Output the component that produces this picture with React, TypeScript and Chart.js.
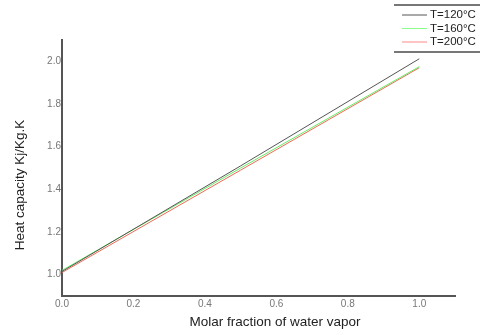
import React, { useEffect, useRef } from "react";
import { Chart, registerables } from "chart.js";

Chart.register(...registerables);

const xValues = [0, 0.5, 1.0];
const seriesLabels = ["T=120°C", "T=160°C", "T=200°C"];
const t120 = [1.015, 1.51, 2.012];
const t160 = [1.02, 1.5, 1.975];
const t200 = [1.01, 1.49, 1.97];
const seriesColors = ["#555555", "#66ee66", "#ee6a55"];
const legendColors = ["#555555", "#88ff88", "#ff8888"];
const xTicks = [0, 0.2, 0.4, 0.6, 0.8, 1.0];
const yTicks = [1.0, 1.2, 1.4, 1.6, 1.8, 2.0];
const xTitle = "Molar fraction of water vapor";
const yTitle = "Heat capacity Kj/Kg.K";

const FONT = "'Liberation Sans', Arial, sans-serif";

const decorPlugin = {
  id: "decor",
  afterDraw(chart: any) {
    const ctx = chart.ctx;
    ctx.save();
    // axis titles
    ctx.fillStyle = "#222";
    ctx.font = `13.5px ${FONT}`;
    ctx.textAlign = "center";
    ctx.textBaseline = "middle";
    ctx.fillText(xTitle, 275, 322);
    ctx.save();
    ctx.translate(20, 185);
    ctx.rotate(-Math.PI / 2);
    ctx.fillText(yTitle, 0, 0);
    ctx.restore();
    // legend
    const x0 = 394, w = 90;
    ctx.fillStyle = "#fff";
    ctx.fillRect(x0, 4, w, 48);
    ctx.strokeStyle = "#777";
    ctx.lineWidth = 2;
    ctx.beginPath();
    ctx.moveTo(x0, 5); ctx.lineTo(x0 + w, 5);
    ctx.moveTo(x0, 52); ctx.lineTo(x0 + w, 52);
    ctx.stroke();
    ctx.font = `11.5px ${FONT}`;
    ctx.textAlign = "left";
    chart.data.datasets.forEach((ds: any, i: number) => {
      const y = 15 + i * 13.5;
      ctx.strokeStyle = legendColors[i];
      ctx.lineWidth = 1;
      ctx.beginPath();
      ctx.moveTo(402, y); ctx.lineTo(427, y);
      ctx.stroke();
      ctx.fillStyle = "#222";
      ctx.fillText(ds.label, 430, y);
    });
    ctx.restore();
  },
};

export default function App() {
  const ref = useRef<HTMLCanvasElement>(null);
  useEffect(() => {
    const mk = (arr: number[]) => xValues.map((x, i) => ({ x, y: arr[i] }));
    const chart = new Chart(ref.current!, {
      type: "line",
      data: {
        datasets: [t120, t160, t200].map((arr, i) => ({
          label: seriesLabels[i],
          data: mk(arr),
          borderColor: seriesColors[i],
          borderWidth: 1,
          pointRadius: 0,
          fill: false,
        })),
      },
      options: {
        animation: false,
        responsive: false,
        layout: { padding: { top: 40, right: 25, left: 0, bottom: 0 } },
        plugins: { legend: { display: false }, tooltip: { enabled: false } },
        scales: {
          x: {
            type: "linear",
            min: 0,
            max: 1.1,
            grid: { display: false, drawTicks: false },
            border: { display: true, color: "#555", width: 2 },
            afterBuildTicks: (s: any) => { s.ticks = xTicks.map((v) => ({ value: v })); },
            afterFit: (s: any) => { s.height = 38; },
            ticks: {
              color: "#777",
              padding: 2,
              maxRotation: 0,
              font: { size: 10, family: FONT },
              callback: (v: any) => Number(v).toFixed(1),
            },
          },
          y: {
            type: "linear",
            min: 0.9,
            max: 2.1,
            grid: { display: false, drawTicks: false },
            border: { display: true, color: "#555", width: 2 },
            afterBuildTicks: (s: any) => { s.ticks = yTicks.map((v) => ({ value: v })); },
            afterFit: (s: any) => { s.width = 62; },
            ticks: {
              color: "#777",
              padding: 1,
              font: { size: 10, family: FONT },
              callback: (v: any) => Number(v).toFixed(1),
            },
          },
        },
      },
      plugins: [decorPlugin],
    });
    return () => chart.destroy();
  }, []);
  return (
    <div style={{ position: "fixed", left: 0, top: 0, width: 480, height: 334, background: "#fff" }}>
      <canvas ref={ref} width={480} height={334} />
    </div>
  );
}
